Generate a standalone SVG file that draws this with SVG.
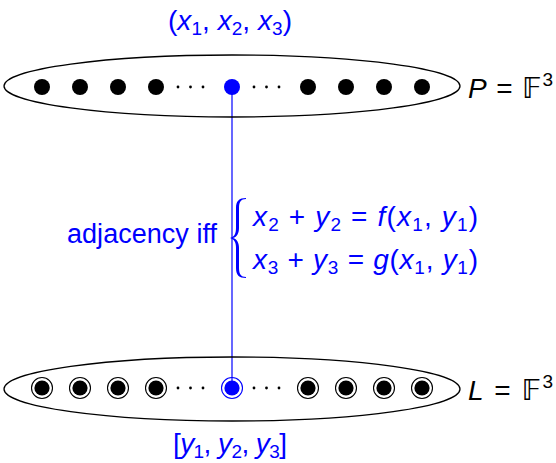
<svg xmlns="http://www.w3.org/2000/svg" width="556" height="463" viewBox="0 0 556 463">
<style>
.set{fill:none;stroke:#000;stroke-width:1.3}
.pt{fill:#000}
.ring{fill:none;stroke:#000;stroke-width:1.1}
.t{font-family:"Liberation Sans",Arial,sans-serif;font-size:27px}
.e{font-size:28px}
.b{fill:#0000ff}
.k{fill:#000}
.i{font-style:italic}
.s{font-size:19px}
.bb{font-family:"DejaVu Sans",sans-serif;font-size:29px}
</style>
<defs>
<g id="dots"><circle cx="0" cy="0" r="1.4"/><circle cx="12.5" cy="0" r="1.4"/><circle cx="25" cy="0" r="1.4"/></g>
<g id="lp"><circle r="10.5" class="ring"/><circle r="7.6" class="pt"/></g>
</defs>
<g id="connectors">
<line x1="232" y1="87" x2="232" y2="388" stroke="#0000ff" stroke-width="1.2"/>
</g>
<g id="P">
<ellipse class="set" cx="232" cy="86" rx="228" ry="31"/>
<g class="pt">
<circle cx="42" cy="87" r="8"/><circle cx="80" cy="87" r="8"/><circle cx="118" cy="87" r="8"/><circle cx="156" cy="87" r="8"/>
<circle cx="308" cy="87" r="8"/><circle cx="346" cy="87" r="8"/><circle cx="384" cy="87" r="8"/><circle cx="422" cy="87" r="8"/>
</g>
<use href="#dots" x="178" y="87"/>
<use href="#dots" x="254" y="87"/>
<text class="t k e" x="468" y="98" textLength="85" lengthAdjust="spacing"><tspan class="i">P</tspan> = <tspan class="bb">𝔽</tspan><tspan class="s" dy="-12">3</tspan></text>
</g>
<g id="x-point">
<circle cx="232" cy="87" r="8" class="b"/>
<text class="t b e" x="168" y="30" textLength="124" lengthAdjust="spacing">(<tspan class="i">x</tspan><tspan class="s" dy="5">1</tspan><tspan dy="-5">, </tspan><tspan class="i">x</tspan><tspan class="s" dy="5">2</tspan><tspan dy="-5">, </tspan><tspan class="i">x</tspan><tspan class="s" dy="5">3</tspan><tspan dy="-5">)</tspan></text>
</g>
<g id="L">
<ellipse class="set" cx="232" cy="389" rx="228" ry="32"/>
<use href="#lp" x="42" y="388"/><use href="#lp" x="80" y="388"/><use href="#lp" x="118" y="388"/><use href="#lp" x="156" y="388"/>
<use href="#lp" x="308" y="388"/><use href="#lp" x="346" y="388"/><use href="#lp" x="384" y="388"/><use href="#lp" x="422" y="388"/>
<use href="#dots" x="178" y="388"/>
<use href="#dots" x="254" y="388"/>
<text class="t k e" x="468" y="400" textLength="85" lengthAdjust="spacing"><tspan class="i">L</tspan> = <tspan class="bb">𝔽</tspan><tspan class="s" dy="-12">3</tspan></text>
</g>
<g id="y-line">
<circle cx="232" cy="388" r="10.5" fill="none" stroke="#0000ff" stroke-width="1.1"/>
<circle cx="232" cy="388" r="7.6" class="b"/>
<text class="t b e" x="173" y="453" textLength="114" lengthAdjust="spacing">[<tspan class="i">y</tspan><tspan class="s" dy="5">1</tspan><tspan dy="-5">, </tspan><tspan class="i">y</tspan><tspan class="s" dy="5">2</tspan><tspan dy="-5">, </tspan><tspan class="i">y</tspan><tspan class="s" dy="5">3</tspan><tspan dy="-5">]</tspan></text>
</g>
<g id="condition">
<text class="t b" x="67" y="243" textLength="150" lengthAdjust="spacing">adjacency iff</text>
<path class="b" d="M246 198 C239 198 236 201 236 208 L236 228 C236 234 234 237 230 238 C234 239 236 242 236 248 L236 268 C236 275 239 278 246 278 L246 277 C241 277 239 274 239 268 L239 248 C239 243 237 239 233 238 C237 237 239 233 239 228 L239 208 C239 202 241 199 246 199 Z"/>
<text class="t b e" x="253" y="226" textLength="225" lengthAdjust="spacing"><tspan class="i">x</tspan><tspan class="s" dy="5">2</tspan><tspan dy="-5"> + </tspan><tspan class="i">y</tspan><tspan class="s" dy="5">2</tspan><tspan dy="-5"> = </tspan><tspan class="i">f</tspan>(<tspan class="i">x</tspan><tspan class="s" dy="5">1</tspan><tspan dy="-5">, </tspan><tspan class="i">y</tspan><tspan class="s" dy="5">1</tspan><tspan dy="-5">)</tspan></text>
<text class="t b e" x="253" y="269" textLength="225" lengthAdjust="spacing"><tspan class="i">x</tspan><tspan class="s" dy="5">3</tspan><tspan dy="-5"> + </tspan><tspan class="i">y</tspan><tspan class="s" dy="5">3</tspan><tspan dy="-5"> = </tspan><tspan class="i">g</tspan>(<tspan class="i">x</tspan><tspan class="s" dy="5">1</tspan><tspan dy="-5">, </tspan><tspan class="i">y</tspan><tspan class="s" dy="5">1</tspan><tspan dy="-5">)</tspan></text>
</g>
</svg>
